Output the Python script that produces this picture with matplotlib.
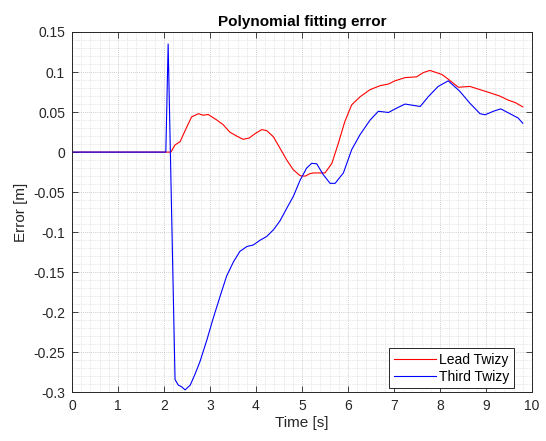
import matplotlib
matplotlib.use("Agg")
import matplotlib.pyplot as plt
from matplotlib.ticker import MultipleLocator

plt.rcParams['font.family'] = ['Liberation Sans', 'DejaVu Sans']

# Lead Twizy
lead_t = [0.0, 2.04, 2.15, 2.24, 2.35, 2.46, 2.60, 2.75, 2.85, 2.96, 3.15, 3.29, 3.43, 3.58, 3.72,
          3.85, 3.98, 4.12, 4.23, 4.38, 4.52, 4.67, 4.81, 4.96, 5.07, 5.17, 5.25, 5.50, 5.65,
          5.79, 5.93, 6.08, 6.26, 6.48, 6.70, 6.88, 7.02, 7.24, 7.49, 7.64, 7.78, 8.04, 8.18,
          8.40, 8.65, 8.87, 9.09, 9.30, 9.48, 9.63, 9.80]
lead_e = [0.0, 0.0, 0.0, 0.009, 0.013, 0.027, 0.044, 0.048, 0.046, 0.047, 0.040, 0.034, 0.025,
          0.020, 0.016, 0.0175, 0.023, 0.028, 0.027, 0.019, 0.005, -0.010, -0.022, -0.0295,
          -0.030, -0.027, -0.026, -0.026, -0.014, 0.011, 0.038, 0.059, 0.069, 0.078, 0.083,
          0.085, 0.089, 0.093, 0.094, 0.0994, 0.102, 0.097, 0.091, 0.081, 0.082, 0.078, 0.074,
          0.070, 0.065, 0.062, 0.0565]

# Third Twizy
third_t = [0.0, 2.04, 2.09, 2.24, 2.31, 2.38, 2.46, 2.57, 2.67, 2.78, 2.93, 3.07, 3.22, 3.36,
           3.51, 3.65, 3.80, 3.94, 4.09, 4.23, 4.38, 4.52, 4.67, 4.81, 4.96, 5.10, 5.21, 5.32,
           5.46, 5.61, 5.72, 5.90, 6.08, 6.26, 6.48, 6.66, 6.88, 7.06, 7.24, 7.57, 7.75, 7.96,
           8.18, 8.43, 8.65, 8.87, 8.98, 9.16, 9.32, 9.52, 9.70, 9.80]
third_e = [0.0, 0.0, 0.135, -0.284, -0.291, -0.293, -0.297, -0.291, -0.278, -0.262, -0.235,
           -0.2075, -0.180, -0.155, -0.137, -0.124, -0.118, -0.116, -0.110, -0.1055, -0.097,
           -0.086, -0.070, -0.0555, -0.035, -0.020, -0.014, -0.0146, -0.028, -0.039, -0.039,
           -0.026, 0.003, 0.0216, 0.040, 0.051, 0.0495, 0.055, 0.060, 0.057, 0.0695, 0.082,
           0.089, 0.076, 0.061, 0.048, 0.0466, 0.051, 0.054, 0.048, 0.0425, 0.036]

series_labels = ['Lead Twizy', 'Third Twizy']
x_ticks = [0, 1, 2, 3, 4, 5, 6, 7, 8, 9, 10]
y_ticks = [-0.3, -0.25, -0.2, -0.15, -0.1, -0.05, 0, 0.05, 0.1, 0.15]
y_tick_labels = ['-0.3', '-0.25', '-0.2', '-0.15', '-0.1', '-0.05', '0', '0.05', '0.1', '0.15']

fig = plt.figure(figsize=(5.46, 4.41), dpi=100)
ax = fig.add_axes([72/546, 48.7/441, 460/546, 360.3/441])

ax.plot(lead_t, lead_e, color='#ff0000', lw=0.8, label=series_labels[0])
ax.plot(third_t, third_e, color='#0000ff', lw=0.8, label=series_labels[1])

ax.set_xlim(0, 10)
ax.set_ylim(-0.3, 0.15)
ax.set_xticks(x_ticks)
ax.set_xticklabels([str(v) for v in x_ticks])
ax.set_yticks(y_ticks)
ax.set_yticklabels(y_tick_labels)
ax.xaxis.set_minor_locator(MultipleLocator(0.2))
ax.yaxis.set_minor_locator(MultipleLocator(0.01))

ax.grid(True, which='major', color='#c0c0c0', linestyle=(0, (1, 1.5)), lw=0.6)
ax.grid(True, which='minor', color='#d0d0d0', linestyle=(0, (1, 1.5)), lw=0.5)
ax.set_axisbelow(True)

ax.tick_params(which='major', direction='in', length=4.5, width=0.6, top=True, right=True,
               labelsize=10, colors='#262626', pad=5)
ax.tick_params(which='minor', length=0, top=True, right=True)
for s in ax.spines.values():
    s.set_color('#262626')
    s.set_linewidth(0.7)

ax.set_title('Polynomial fitting error', fontsize=11, fontweight='bold', pad=4)
ax.set_xlabel('Time [s]', fontsize=11, color='#262626', labelpad=2)
ax.set_ylabel('Error [m]', fontsize=11, color='#262626', labelpad=4)

leg = ax.legend(loc='lower right', bbox_to_anchor=(442/460, 4/360.3), fontsize=10,
                frameon=True, fancybox=False, edgecolor='#262626', framealpha=1,
                borderaxespad=0, handlelength=3.0, borderpad=0.34, labelspacing=0.2,
                handletextpad=0.25)
leg.get_frame().set_linewidth(0.7)

fig.savefig('out.png', dpi=100)
